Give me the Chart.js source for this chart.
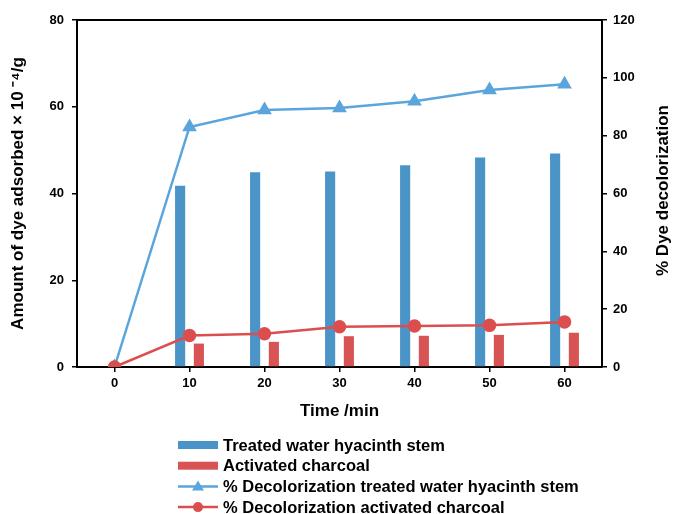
<!DOCTYPE html>
<html lang="en">
<head>
<meta charset="UTF-8">
<title>Dye adsorption</title>
<script src="https://cdn.jsdelivr.net/npm/chart.js"></script>
<style>
    html, body { margin: 0; padding: 0; background: #fff; }
    #box { width: 673px; height: 514px; }
</style>
</head>
<body>
<div id="box"><canvas id="grafico"></canvas></div>

<script>
    // dados
    const tempos = ['0', '10', '20', '30', '40', '50', '60'];
    const adsorvidoAguape = [null, 41.8, 44.9, 45.1, 46.5, 48.3, 49.2];
    const adsorvidoCarvao = [null, 5.4, 5.8, 7.1, 7.2, 7.4, 7.9];
    const descoloracaoAguape = [0, 83.0, 88.9, 89.6, 91.9, 95.8, 97.8];
    const descoloracaoCarvao = [0, 10.9, 11.5, 13.9, 14.2, 14.4, 15.6];
    const ticksEsquerda = [0, 20, 40, 60, 80];
    const ticksDireita = [0, 20, 40, 60, 80, 100, 120];

    const azulBarra = '#4a94c7';
    const vermelhoBarra = '#d85454';
    const azulLinha = '#5aa5dc';
    const vermelhoLinha = '#dc4e4e';
    const fonte = 'Liberation Sans, Arial, sans-serif';

    // legenda, borda de cima e titulo da direita desenhados a mao
    const extras = {
        id: 'extras',
        afterDraw(chart) {
            const ctx = chart.ctx;
            const area = chart.chartArea;
            ctx.save();
            ctx.strokeStyle = '#000';
            ctx.lineWidth = 2;
            ctx.beginPath();
            ctx.moveTo(area.left, area.top);
            ctx.lineTo(area.right, area.top);
            ctx.stroke();

            ctx.fillStyle = '#000';
            ctx.font = 'bold 17px ' + fonte;
            ctx.textAlign = 'center';
            ctx.textBaseline = 'middle';
            ctx.translate(663, (area.top + area.bottom) / 2 - 3);
            ctx.rotate(-Math.PI / 2);
            ctx.fillText('% Dye decolorization', 0, 0);
            ctx.restore();

            // legenda
            const itens = chart.data.datasets;
            const x0 = 178, x1 = 218, xt = 223;
            let y = 445;
            ctx.save();
            ctx.font = 'bold 16.5px ' + fonte;
            ctx.textBaseline = 'middle';
            itens.forEach(ds => {
                if (ds.type === 'bar') {
                    ctx.fillStyle = ds.backgroundColor;
                    ctx.fillRect(x0, y - 4, x1 - x0, 8);
                } else {
                    ctx.strokeStyle = ds.borderColor;
                    ctx.lineWidth = 2.5;
                    ctx.beginPath();
                    ctx.moveTo(x0, y);
                    ctx.lineTo(x1, y);
                    ctx.stroke();
                    ctx.fillStyle = ds.borderColor;
                    ctx.beginPath();
                    if (ds.pointStyle === 'triangle') {
                        ctx.moveTo(198, y - 6);
                        ctx.lineTo(204, y + 4);
                        ctx.lineTo(192, y + 4);
                        ctx.closePath();
                    } else {
                        ctx.arc(198, y, 5, 0, Math.PI * 2);
                    }
                    ctx.fill();
                }
                ctx.fillStyle = '#000';
                ctx.fillText(ds.label, xt, y + 1);
                y += 20.7;
            });
            ctx.restore();
        }
    };

    const eixoPreto = { display: true, color: '#000', width: 2 };
    const gradeFora = { display: true, drawOnChartArea: false, drawTicks: true, tickLength: 5, color: '#000', lineWidth: 1.5 };
    const fonteTick = { family: fonte, size: 13, weight: 'bold' };
    const fonteTitulo = { family: fonte, size: 17, weight: 'bold' };

    new Chart(document.getElementById('grafico'), {
        data: {
            labels: tempos,
            datasets: [
                {
                    type: 'bar',
                    label: 'Treated water hyacinth stem',
                    data: adsorvidoAguape,
                    backgroundColor: azulBarra,
                    yAxisID: 'y',
                    order: 3
                },
                {
                    type: 'bar',
                    label: 'Activated charcoal',
                    data: adsorvidoCarvao,
                    backgroundColor: vermelhoBarra,
                    yAxisID: 'y',
                    order: 3
                },
                {
                    type: 'line',
                    label: '% Decolorization treated water hyacinth stem',
                    data: descoloracaoAguape,
                    borderColor: azulLinha,
                    backgroundColor: azulLinha,
                    borderWidth: 2.5,
                    pointStyle: 'triangle',
                    pointRadius: 6,
                    tension: 0,
                    yAxisID: 'y1',
                    order: 2
                },
                {
                    type: 'line',
                    label: '% Decolorization activated charcoal',
                    data: descoloracaoCarvao,
                    borderColor: vermelhoLinha,
                    backgroundColor: vermelhoLinha,
                    borderWidth: 2.5,
                    pointStyle: 'circle',
                    pointRadius: 5.5,
                    tension: 0,
                    yAxisID: 'y1',
                    order: 1
                }
            ]
        },
        options: {
            responsive: true,
            maintainAspectRatio: false,
            animation: false,
            datasets: {
                bar: { categoryPercentage: 0.5, barPercentage: 0.54 }
            },
            layout: { padding: { top: 20, bottom: 92, left: 0, right: 0 } },
            plugins: {
                legend: { display: false },
                tooltip: { enabled: false }
            },
            scales: {
                x: {
                    offset: true,
                    grid: Object.assign({}, gradeFora, { offset: false }),
                    border: eixoPreto,
                    ticks: { color: '#000', font: fonteTick, padding: 4 },
                    title: {
                        display: true,
                        text: 'Time /min',
                        color: '#000',
                        font: fonteTitulo,
                        padding: { top: 6, bottom: 0 }
                    }
                },
                y: {
                    position: 'left',
                    min: 0,
                    max: 80,
                    afterFit: s => { s.width = 77; },
                    afterBuildTicks: s => { s.ticks = ticksEsquerda.map(v => ({ value: v })); },
                    grid: gradeFora,
                    border: eixoPreto,
                    ticks: { color: '#000', font: fonteTick, padding: 8 },
                    title: {
                        display: true,
                        text: 'Amount of dye adsorbed × 10 \u207B\u2074/g',
                        color: '#000',
                        font: fonteTitulo,
                        padding: { top: 8, bottom: 0 }
                    }
                },
                y1: {
                    position: 'right',
                    min: 0,
                    max: 120,
                    afterFit: s => { s.width = 71; },
                    afterBuildTicks: s => { s.ticks = ticksDireita.map(v => ({ value: v })); },
                    grid: gradeFora,
                    border: eixoPreto,
                    ticks: { color: '#000', font: fonteTick, padding: 6 }
                }
            }
        },
        plugins: [extras]
    });
</script>
</body>
</html>
